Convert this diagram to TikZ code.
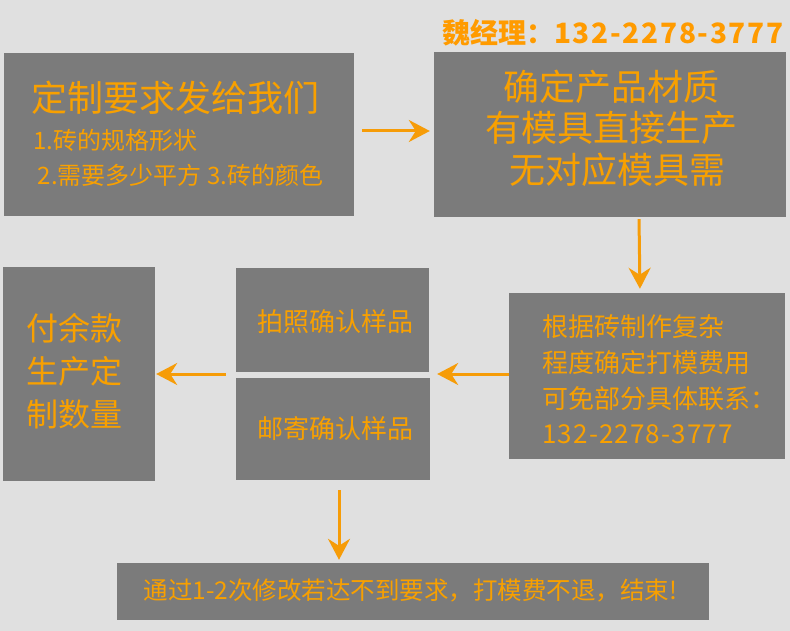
\documentclass[tikz,border=0pt]{standalone}
\usepackage{fontspec}
\setmainfont{Noto Sans CJK SC}
\usetikzlibrary{arrows.meta}
\definecolor{bg}{RGB}{224,224,224}
\definecolor{boxgray}{RGB}{123,123,123}
\definecolor{org}{RGB}{248,160,0}
\definecolor{hdr}{RGB}{255,155,0}
\definecolor{arrc}{RGB}{246,156,8}
\newcommand{\widedigits}[2]{{\addfontfeature{LetterSpace=#1}#2}}
\tikzset{
  box/.style={fill=boxgray, draw=none, inner sep=0pt, rectangle},
  txt/.style={text=org, inner sep=0pt},
  arr/.style={draw=arrc, line width=3pt, -{Stealth[length=21pt,width=22pt,inset=7pt]}},
}
\begin{document}
\begin{tikzpicture}[x=1pt,y=-1pt]
\fill[bg] (0,0) rectangle (790,631);
\useasboundingbox (0,0) rectangle (790,631);
% boxes
\node[box, minimum width=350pt, minimum height=163pt] (b1) at (179,134.5) {};
\node[box, minimum width=352pt, minimum height=165pt] (b2) at (610,134.5) {};
\node[box, minimum width=276pt, minimum height=166pt] (b3) at (647,376) {};
\node[box, minimum width=193pt, minimum height=104pt] (b4) at (332.5,320) {};
\node[box, minimum width=194pt, minimum height=102pt] (b5) at (333,429) {};
\node[box, minimum width=152pt, minimum height=214pt] (b6) at (79,374) {};
\node[box, minimum width=592pt, minimum height=57pt] (b7) at (413,591.5) {};
% header
\node[text=hdr, inner sep=0pt, anchor=west, font=\fontsize{28}{32}\selectfont\bfseries] (hd) at (442,33) {魏经理：\widedigits{6}{132-2278-3777}};
% texts box 1
\node[txt, anchor=west, font=\fontsize{36}{40}\selectfont] (t1a) at (31,98) {定制要求发给我们};
\node[txt, anchor=west, font=\fontsize{24}{28}\selectfont] (t1b) at (33,140) {1.砖的规格形状};
\node[txt, anchor=west, font=\fontsize{24}{28}\selectfont] (t1c) at (37.5,175) {2.需要多少平方 3.砖的颜色};
% box 2
\node[txt, font=\fontsize{36}{40}\selectfont] (t2a) at (611,87) {确定产品材质};
\node[txt, font=\fontsize{36}{40}\selectfont] (t2b) at (611,128) {有模具直接生产};
\node[txt, font=\fontsize{36}{40}\selectfont] (t2c) at (617,170) {无对应模具需};
% box 3
\node[txt, anchor=base west, font=\fontsize{26}{30}\selectfont] (t3a) at (542,336) {根据砖制作复杂};
\node[txt, anchor=base west, font=\fontsize{26}{30}\selectfont] (t3b) at (542,372) {程度确定打模费用};
\node[txt, anchor=base west, font=\fontsize{26}{30}\selectfont] (t3c) at (542,408) {可免部分具体联系：};
\node[txt, anchor=base west, font=\fontsize{26}{30}\selectfont] (t3d) at (542,443) {\widedigits{4.5}{132-2278-3777}};
% box 4,5
\node[txt, font=\fontsize{26}{30}\selectfont] (t4) at (335,321.5) {拍照确认样品};
\node[txt, font=\fontsize{26}{30}\selectfont] (t5) at (335,428.5) {邮寄确认样品};
% box 6
\node[txt, font=\fontsize{32}{36}\selectfont] (t6a) at (75,328) {付余款};
\node[txt, font=\fontsize{32}{36}\selectfont] (t6b) at (75,371) {生产定};
\node[txt, font=\fontsize{32}{36}\selectfont] (t6c) at (75,414) {制数量};
% box 7
\node[txt, font=\fontsize{24.5}{28}\selectfont] (t7) at (410.5,591) {通过1-2次修改若达不到要求，打模费不退，结束!};
% arrows
\draw[arr, shorten <=8pt, shorten >=4pt] ([yshift=3.5pt]b1.east) -- ([yshift=3.5pt]b1.east -| b2.west);
\draw[arr, shorten <=2pt, shorten >=4pt] ([xshift=29pt]b2.south) -- ([xshift=-7pt]b3.north);
\draw[arr, shorten <=0pt, shorten >=8pt] ([yshift=2pt]b3.west) -- ([yshift=2pt]b3.west -| b4.east);
\draw[arr, shorten <=10pt, shorten >=1pt] (b6.east -| b4.west) -- (b6.east);
\draw[arr, shorten <=10pt, shorten >=3pt] ([xshift=6pt]b5.south) -- ([xshift=6pt]b5.south |- b7.north);
\end{tikzpicture}
\end{document}
